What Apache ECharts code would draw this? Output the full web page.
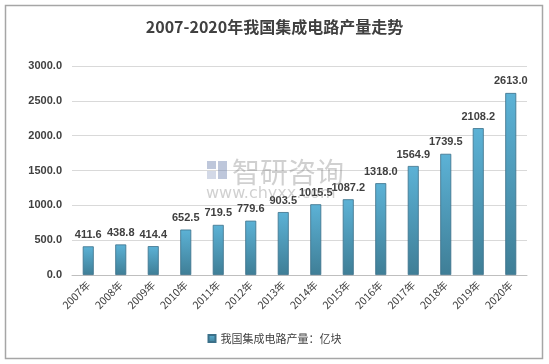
<!DOCTYPE html>
<html><head><meta charset="utf-8">
<script src="https://cdn.jsdelivr.net/npm/echarts@6/dist/echarts.min.js"></script>
<style>html,body{margin:0;padding:0;background:#fff;}#c{width:549px;height:364px;}</style>
</head><body><div id="c"></div>
<script>
const categories = ['2007年','2008年','2009年','2010年','2011年','2012年','2013年','2014年','2015年','2016年','2017年','2018年','2019年','2020年'];
const values = [411.6,438.8,414.4,652.5,719.5,779.6,903.5,1015.5,1087.2,1318.0,1564.9,1739.5,2108.2,2613.0];
const seriesName = '我国集成电路产量：亿块';
const titleText = '2007-2020年我国集成电路产量走势';
const font = '"Noto Sans CJK SC", "Liberation Sans", sans-serif';
const chart = echarts.init(document.getElementById('c'));
chart.setOption({
  animation: false,
  backgroundColor: '#fff',
  graphic: [
    {type:'rect', shape:{x:5.5,y:5.5,width:537,height:353}, style:{fill:'none', stroke:'#a6a6a6', lineWidth:1.5}, z:-1},
    {type:'rect', shape:{x:207,y:161,width:9,height:8}, style:{fill:'rgba(110,130,175,0.45)'}, z:100},
    {type:'rect', shape:{x:218,y:161,width:9,height:18}, style:{fill:'rgba(110,130,175,0.45)'}, z:100},
    {type:'rect', shape:{x:207,y:171,width:9,height:8}, style:{fill:'rgba(110,130,175,0.3)'}, z:100},
    {type:'text', left:232, top:158, style:{text:'智研咨询', font:'28px '+font, fill:'rgba(120,120,120,0.35)'}, z:100},
    {type:'text', left:206, top:186, style:{text:'www.chyxx.com', font:'16px "DejaVu Sans", sans-serif', fill:'rgba(120,120,120,0.35)', letterSpacing:3}, z:100}
  ],
  title: {text: titleText, left:'center', top:14, textStyle:{fontFamily:font, fontSize:16, fontWeight:'bold', color:'#404040'}},
  legend: {bottom:15, left:'center', itemWidth:7, itemHeight:7, icon:'rect', textStyle:{fontFamily:font, fontSize:11, color:'#404040'}, data:[seriesName]},
  grid: {left:72, right:22, top:66, bottom:89, containLabel:false},
  xAxis: {type:'category', data:categories, axisTick:{show:false},
    axisLine:{lineStyle:{color:'#bfbfbf'}},
    axisLabel:{rotate:45, fontFamily:font, fontSize:10.5, color:'#404040', margin:8, interval:0}},
  yAxis: {type:'value', min:0, max:3000, interval:500,
    axisLabel:{formatter:v=>v.toFixed(1), fontFamily:'"Liberation Sans", sans-serif', fontWeight:'bold', fontSize:11, color:'#404040', margin:10},
    splitLine:{lineStyle:{color:'#d9d9d9'}}, axisLine:{show:false}, axisTick:{show:false}},
  series: [{
    name: seriesName, type:'bar', data: values, barWidth:11,
    itemStyle:{color:new echarts.graphic.LinearGradient(0,0,0,1,[{offset:0,color:'#5cb2d6'},{offset:1,color:'#3f7e96'}]), borderColor:'#3b7089', borderWidth:0.8},
    label:{show:true, position:'top', formatter:p=>p.value.toFixed(1), fontFamily:'"Liberation Sans", sans-serif', fontWeight:'bold', fontSize:11, color:'#404040', distance:6}
  }]
});
</script></body></html>
